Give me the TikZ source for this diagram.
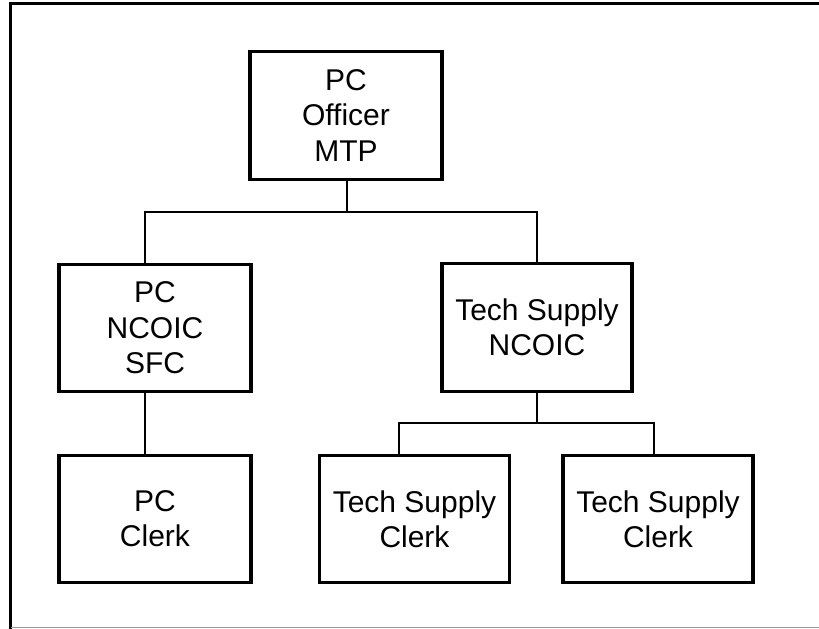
\documentclass[tikz,border=0pt]{standalone}
\usepackage{fontspec}
\setmainfont{Liberation Sans}
\begin{document}
\begin{tikzpicture}[x=0.75pt,y=-0.75pt,
  box/.style={draw=black, line width=2.3pt, fill=white, minimum width=144pt, minimum height=95.5pt,
    inner sep=0pt, align=center, font=\fontsize{22.5}{26.5}\selectfont},
  conn/.style={draw=black, line width=1pt, line join=miter}]
\useasboundingbox (0,0) rectangle (819,629);
% frame
\draw[line width=2.2pt, line cap=rect] (10.7,628.5) -- (10.7,3.2) -- (819,3.2);
\draw[line width=1pt, draw=black!40] (10.7,627.8) -- (819,627.8);
% nodes
\node[box] (top) at (346,115.5) {PC\\Officer\\MTP};
\node[box] (nc1) at (155,328) {PC\\NCOIC\\SFC};
\node[box, minimum width=142.5pt] (nc2) at (537,327.5) {Tech Supply\\NCOIC};
\node[box] (pcc) at (155,519) {PC\\Clerk};
\node[box, minimum width=143pt] (ts1) at (414.5,519) {Tech Supply\\Clerk};
\node[box, minimum width=142.5pt] (ts2) at (658,519) {Tech Supply\\Clerk};
% junctions
\coordinate (j1) at (347,212);
\coordinate (b1) at (145,212);
\coordinate (b2) at (537,212);
\coordinate (j2) at (537,423);
\coordinate (c1) at (399,423);
\coordinate (c2) at (654,423);
% connectors
\draw[conn] (top.south -| j1) -- (j1);
\draw[conn] (nc1.north -| b1) -- (b1) -- (b2) -- (nc2.north -| b2);
\draw[conn] (nc1.south -| b1) -- (pcc.north -| b1);
\draw[conn] (nc2.south -| j2) -- (j2);
\draw[conn] (ts1.north -| c1) -- (c1) -- (c2) -- (ts2.north -| c2);
\end{tikzpicture}
\end{document}
